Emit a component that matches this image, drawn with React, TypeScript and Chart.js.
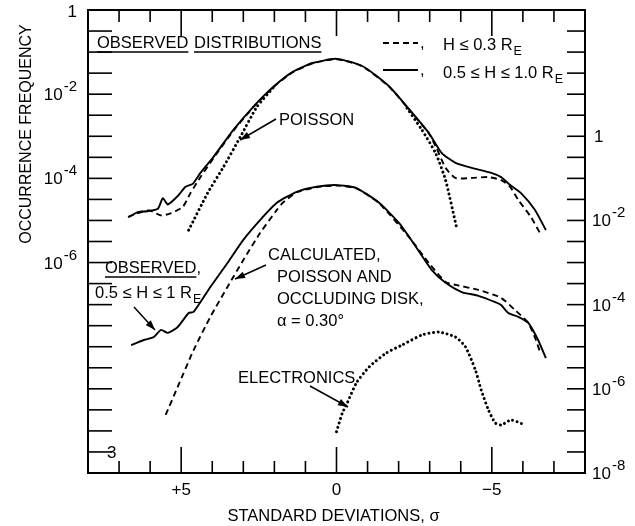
import React, { useEffect, useRef } from 'react';
import { Chart, registerables } from 'chart.js';

Chart.register(...registerables);

// [standard deviation sigma, log10 of occurrence frequency]
// upper group (left axis)
const topSolid: [number, number][] = [
  [6.68, -4.92], [6.40, -4.80], [6.10, -4.78], [5.75, -4.72], [5.59, -4.47], [5.43, -4.62],
  [5.11, -4.42], [4.86, -4.20], [4.63, -4.13], [4.38, -3.87], [3.96, -3.49], [3.32, -2.85],
  [2.68, -2.30], [2.04, -1.83], [1.41, -1.47], [0.77, -1.26], [0, -1.16], [-0.83, -1.33],
  [-1.69, -1.81], [-2.33, -2.35], [-2.97, -2.92], [-3.39, -3.40], [-3.83, -3.63], [-4.35, -3.75],
  [-4.98, -3.87], [-5.30, -3.97], [-5.59, -4.16], [-5.94, -4.35], [-6.39, -4.75], [-6.74, -5.23],
];
const topDashed: [number, number][] = [
  [6.71, -4.92], [6.45, -4.84], [6.04, -4.76], [5.65, -4.88], [5.34, -4.83], [4.95, -4.68],
  [4.70, -4.35], [4.38, -3.97], [3.96, -3.52], [3.32, -2.87], [2.68, -2.31], [2.04, -1.84],
  [1.41, -1.48], [0.77, -1.27], [0, -1.17], [-0.83, -1.34], [-1.69, -1.82], [-2.33, -2.36],
  [-2.97, -2.93], [-3.20, -3.25], [-3.51, -3.75], [-3.83, -3.99], [-4.35, -3.99], [-4.89, -3.97],
  [-5.30, -4.04], [-5.59, -4.20], [-5.85, -4.51], [-6.26, -4.92], [-6.58, -5.34],
];
const poissonLeft: [number, number][] = [
  [4.76, -5.23], [4.15, -4.35], [3.64, -3.73], [3.10, -3.02], [2.56, -2.30], [2.04, -1.85],
];
const poissonRight: [number, number][] = [
  [-2.27, -2.33], [-2.75, -2.85], [-3.19, -3.40], [-3.51, -4.04], [-3.87, -5.18],
];
// lower group (right axis)
const lowSolid: [number, number][] = [
  [6.61, -4.96], [6.20, -4.84], [5.88, -4.77], [5.65, -4.60], [5.43, -4.67], [5.11, -4.53],
  [4.76, -4.20], [4.60, -4.17], [4.06, -3.58], [3.51, -3.01], [3.00, -2.46], [2.46, -1.99],
  [1.92, -1.58], [1.28, -1.32], [0.64, -1.20], [0, -1.16], [-0.64, -1.23], [-1.37, -1.58],
  [-2.01, -2.06], [-2.56, -2.63], [-3.07, -3.18], [-3.51, -3.48], [-4.03, -3.70], [-4.57, -3.79],
  [-5.11, -3.94], [-5.30, -4.01], [-5.53, -4.20], [-5.85, -4.29], [-6.17, -4.43], [-6.49, -4.84],
  [-6.74, -5.27],
];
const calculated: [number, number][] = [
  [5.50, -6.62], [5.11, -5.95], [4.60, -5.08], [4.06, -4.29], [3.51, -3.58], [3.00, -2.94],
  [2.46, -2.30], [1.92, -1.75], [1.73, -1.58], [1.28, -1.33], [0.64, -1.21], [0, -1.17],
  [-0.64, -1.24], [-1.37, -1.59], [-2.33, -2.39], [-2.97, -3.01], [-3.51, -3.46], [-3.83, -3.53],
  [-4.57, -3.65], [-5.30, -3.84], [-5.75, -4.13], [-6.17, -4.43], [-6.42, -4.84], [-6.55, -5.12],
];
const electronics: [number, number][] = [
  [0, -7.02], [-0.19, -6.57], [-0.35, -6.33], [-0.64, -5.86], [-1.05, -5.48], [-1.60, -5.15],
  [-2.11, -4.96], [-2.75, -4.72], [-3.29, -4.65], [-3.83, -4.77], [-4.15, -5.00], [-4.47, -5.55],
  [-4.66, -6.03], [-4.89, -6.50], [-5.11, -6.81], [-5.30, -6.86], [-5.62, -6.74], [-6.07, -6.86],
];

// axes
const sigmaTicks = [8, 7, 6, 5, 4, 3, 2, 1, 0, -1, -2, -3, -4, -5, -6, -7, -8];
const sigmaMajor = [5, 0, -5];
const sigmaLabels = ['+5', '0', '\u22125'];
const leftTickExps = [-0.5, -1, -1.5, -2, -2.5, -3, -3.5, -4, -4.5, -5, -5.5, -6, -6.5, -7, -7.5, -8, -8.5, -9, -9.5, -10, -10.5];
const leftLabelExps = [-2, -4, -6];
const rightLabelExps = [-2, -4, -6, -8];

const FONT = '"Liberation Sans", Arial, sans-serif';

const toPts = (arr: [number, number][]) => arr.map(([s, e]) => ({ x: s, y: Math.pow(10, e) }));

const inkPlugin = {
  id: 'ink',
  afterDatasetsDraw(chart: any) {
    const { ctx, chartArea: a, scales } = chart;
    const sx = scales.x, sy = scales.y, sy2 = scales.y2;
    const line = (x1: number, y1: number, x2: number, y2: number) => {
      ctx.beginPath(); ctx.moveTo(x1, y1); ctx.lineTo(x2, y2); ctx.stroke();
    };
    const txt = (s: string, x: number, y: number, size = 16.5, align: CanvasTextAlign = 'left') => {
      ctx.font = `${size}px ${FONT}`;
      ctx.textAlign = align;
      ctx.textBaseline = 'alphabetic';
      ctx.fillText(s, x, y);
      return ctx.measureText(s).width;
    };
    const arrow = (x1: number, y1: number, x2: number, y2: number) => {
      ctx.lineWidth = 1.5;
      line(x1, y1, x2, y2);
      const ang = Math.atan2(y2 - y1, x2 - x1);
      const L = 10, W = 3.5;
      ctx.beginPath();
      ctx.moveTo(x2, y2);
      ctx.lineTo(x2 - L * Math.cos(ang) + W * Math.sin(ang), y2 - L * Math.sin(ang) - W * Math.cos(ang));
      ctx.lineTo(x2 - L * Math.cos(ang) - W * Math.sin(ang), y2 - L * Math.sin(ang) + W * Math.cos(ang));
      ctx.closePath();
      ctx.fill();
    };
    const pow10 = (sup: string, x: number, y: number, align: 'left' | 'right') => {
      ctx.font = `17px ${FONT}`;
      const w1 = ctx.measureText('10').width;
      ctx.font = `15px ${FONT}`;
      const w2 = ctx.measureText(sup).width;
      const x0 = align === 'left' ? x : x - w1 - w2 - 1;
      txt('10', x0, y + 6, 17);
      txt(sup, x0 + w1 + 1, y - 3, 15);
    };

    ctx.save();
    ctx.strokeStyle = '#000';
    ctx.fillStyle = '#000';
    ctx.lineWidth = 2;
    ctx.strokeRect(a.left, a.top, a.right - a.left, a.bottom - a.top);

    // sigma ticks top and bottom, pointing inwards
    ctx.lineWidth = 1.6;
    for (const s of sigmaTicks) {
      const px = sx.getPixelForValue(s);
      const len = sigmaMajor.includes(s) ? 26 : 12;
      line(px, a.top, px, a.top + len);
      line(px, a.bottom, px, a.bottom - len);
    }
    sigmaMajor.forEach((s, i) => txt(sigmaLabels[i], sx.getPixelForValue(s), a.bottom + 22, 17, 'center'));

    // left and right log ticks
    for (const e of leftTickExps) {
      const py = sy.getPixelForValue(Math.pow(10, e));
      line(a.left, py, a.left + 24, py);
      const py2 = sy2.getPixelForValue(Math.pow(10, e + 3));
      line(a.right - 18, py2, a.right, py2);
    }
    // left labels
    txt('1', a.left - 11, sy.getPixelForValue(1) + 7, 17, 'right');
    for (const e of leftLabelExps) pow10('-' + Math.abs(e), a.left - 11, sy.getPixelForValue(Math.pow(10, e)), 'right');
    txt('3', a.left + 19, sy.getPixelForValue(Math.pow(10, -10.5)) + 6, 17);
    // right labels
    txt('1', a.right + 9, sy2.getPixelForValue(1) + 6, 17);
    for (const e of rightLabelExps) pow10('-' + Math.abs(e), a.right + 7, sy2.getPixelForValue(Math.pow(10, e)), 'left');

    // axis titles
    txt('STANDARD DEVIATIONS, \u03C3', (a.left + a.right) / 2 - 3, a.bottom + 48, 16.5, 'center');
    ctx.save();
    ctx.translate(27, 134);
    ctx.rotate(-Math.PI / 2);
    ctx.font = `16px ${FONT}`;
    ctx.textAlign = 'center';
    ctx.textBaseline = 'middle';
    ctx.fillText('OCCURRENCE FREQUENCY', 0, 0);
    ctx.restore();

    // header and legend
    ctx.lineWidth = 1.3;
    let w = txt('OBSERVED', 97, 48);
    line(97, 52, 97 + w, 52);
    w = txt('DISTRIBUTIONS', 194, 48);
    line(194, 52, 194 + w, 52);

    ctx.lineWidth = 1.8;
    ctx.setLineDash([6, 4]);
    line(383, 43, 418, 43);
    ctx.setLineDash([]);
    txt(',', 420, 48);
    w = txt('H \u2264 0.3 R', 443, 50);
    txt('E', 443 + w + 1, 55, 12.5);
    line(383, 70, 418, 70);
    txt(',', 420, 75);
    w = txt('0.5 \u2264 H \u2264 1.0 R', 443, 78);
    txt('E', 443 + w + 1, 83, 12.5);

    // annotations
    txt('POISSON', 279, 125);
    arrow(276, 119, 240, 140);

    txt('CALCULATED,', 268, 260);
    txt('POISSON AND', 277, 282);
    txt('OCCLUDING DISK,', 277, 304);
    txt('\u03B1 = 0.30\u00B0', 277, 326);
    arrow(266, 265, 235, 279);

    ctx.lineWidth = 1.3;
    w = txt('OBSERVED', 105, 273);
    txt(',', 105 + w, 273);
    line(105, 277, 105 + w, 277);
    w = txt('0.5 \u2264 H \u2264 1 R', 95, 298);
    txt('E', 95 + w + 1, 303, 12.5);
    arrow(134, 307, 155, 330);

    txt('ELECTRONICS', 238, 383);
    arrow(310, 386, 348, 407);

    ctx.restore();
  },
};

const solid = { borderColor: '#000', borderWidth: 1.9, pointRadius: 0, tension: 0.2, fill: false };
const dashed = { ...solid, borderDash: [6, 4] };
const dotted = { ...solid, borderWidth: 3, borderDash: [0.001, 4.6], borderCapStyle: 'round' as const };

export default function App() {
  const ref = useRef<HTMLCanvasElement | null>(null);
  useEffect(() => {
    if (!ref.current) return;
    const chart = new Chart(ref.current, {
      type: 'line',
      data: {
        datasets: [
          { ...solid, label: '0.5 \u2264 H \u2264 1.0 RE', data: toPts(topSolid), yAxisID: 'y' },
          { ...dashed, label: 'H \u2264 0.3 RE', data: toPts(topDashed), yAxisID: 'y' },
          { ...dotted, label: 'Poisson', data: toPts(poissonLeft), yAxisID: 'y' },
          { ...dotted, label: 'Poisson ', data: toPts(poissonRight), yAxisID: 'y' },
          { ...solid, label: 'Observed 0.5 \u2264 H \u2264 1 RE', data: toPts(lowSolid), yAxisID: 'y2' },
          { ...dashed, label: 'Calculated', data: toPts(calculated), yAxisID: 'y2' },
          { ...dotted, label: 'Electronics', data: toPts(electronics), yAxisID: 'y2' },
        ] as any,
      },
      options: {
        animation: false,
        responsive: true,
        maintainAspectRatio: false,
        layout: { padding: { left: 88, right: 50, top: 10, bottom: 53 } },
        plugins: { legend: { display: false }, tooltip: { enabled: false } },
        scales: {
          x: { type: 'linear', min: -8, max: 8, reverse: true, display: false },
          y: { type: 'logarithmic', min: 1e-11, max: 1, display: false, position: 'left' },
          y2: { type: 'logarithmic', min: 1e-8, max: 1e3, display: false, position: 'right' },
        },
      },
      plugins: [inkPlugin],
    });
    return () => chart.destroy();
  }, []);
  return (
    <div style={{ position: 'fixed', left: 0, top: 0, width: 635, height: 526, background: '#fff' }}>
      <canvas ref={ref} />
    </div>
  );
}
